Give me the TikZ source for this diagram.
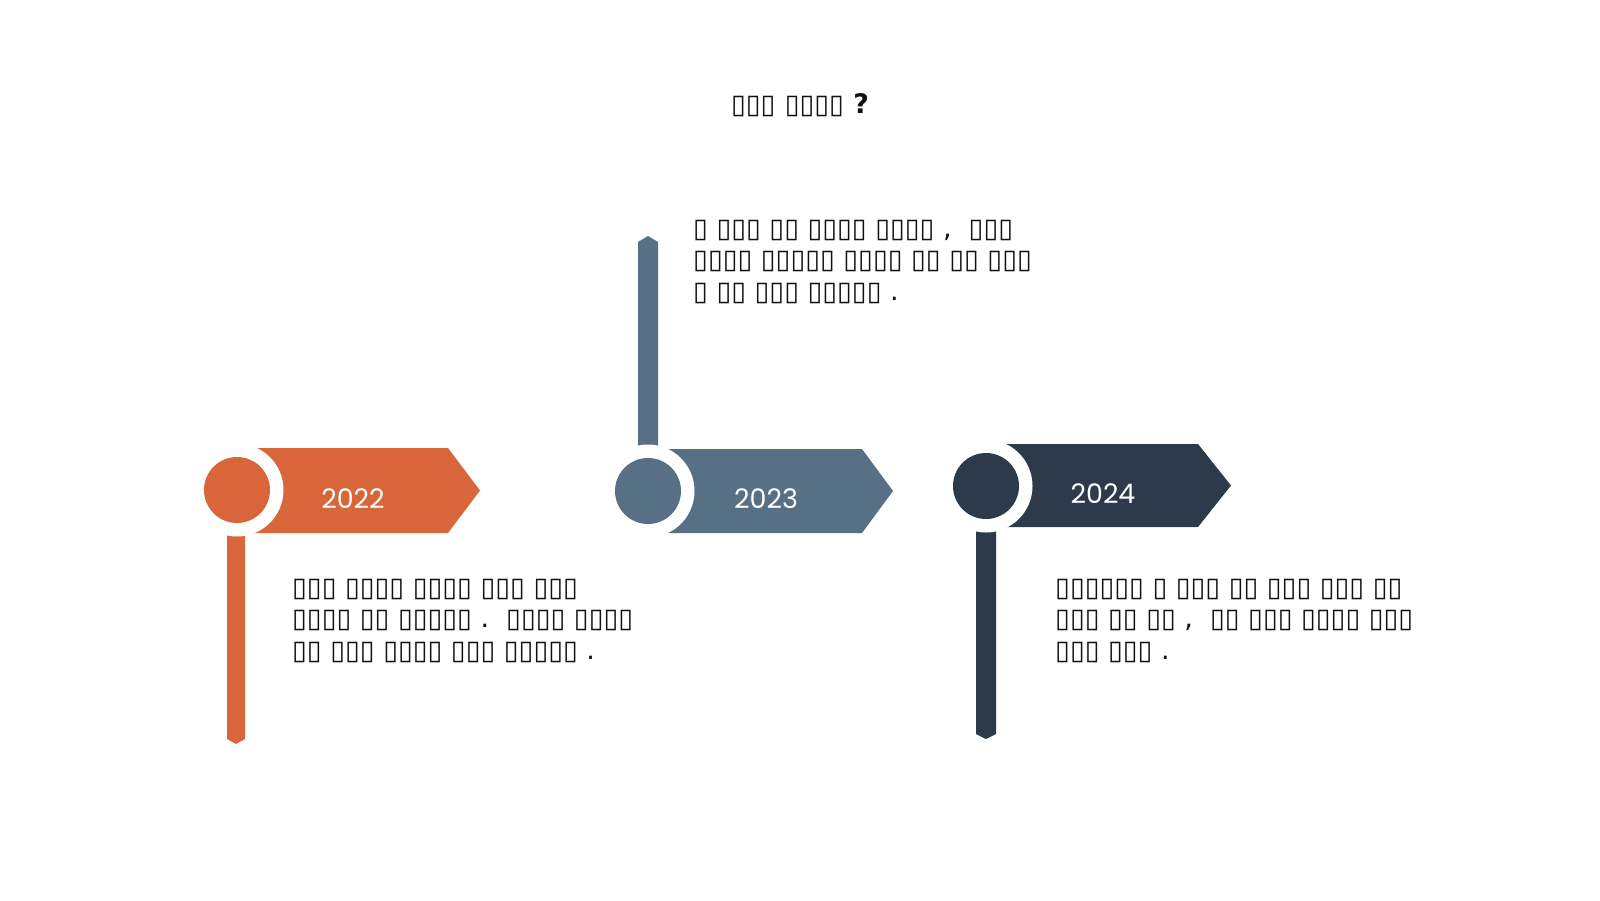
\documentclass[tikz,border=0pt]{standalone}
\usepackage{fontspec}
\newfontfamily\boxfont{DejaVu Sans}
\newfontfamily\yearfont{Poppins}
\definecolor{corange}{HTML}{D8663A}
\definecolor{cslate}{HTML}{587085}
\definecolor{cnavy}{HTML}{2C3A4B}
\definecolor{ctext}{HTML}{111111}
\begin{document}
\begin{tikzpicture}[x=1bp,y=-1bp,
  ringnode/.style={circle, fill=white, minimum size=93bp, inner sep=0pt},
  dotnode/.style={circle, minimum size=66bp, inner sep=0pt},
  body/.style={anchor=base west, align=left, inner sep=0pt, text=ctext,
    font=\boxfont\fontsize{27}{31.5}\selectfont},
  yearlabel/.style={anchor=base, inner sep=0pt, text=white,
    font=\yearfont\fontsize{27}{30}\selectfont},
  titlelabel/.style={anchor=base, inner sep=0pt, text=ctext,
    font=\boxfont\bfseries\fontsize{27}{30}\selectfont}
]
\useasboundingbox (0,0) rectangle (1600,900);
\fill[white] (0,0) rectangle (1600,900);

% title
\node[titlelabel] (title) at (800,113) {▯▯▯ ▯▯▯▯ ?};

% ---------- 2022 ----------
\fill[corange] (227,490) -- (227,739) -- (236,744) -- (245,739) -- (245,490) -- cycle;
\fill[corange] (237,448) -- (448,448) -- (480,490.5) -- (448,533) -- (237,533) -- cycle;
\node[ringnode] (r22) at (237,490) {};
\node[dotnode, fill=corange] (d22) at (237,490) {};
\node[yearlabel] (y22) at (353,508) {2022};
\node[body] (t22) at (292,659) {▯▯▯ ▯▯▯▯ ▯▯▯▯ ▯▯▯ ▯▯▯\\
▯▯▯▯ ▯▯ ▯▯▯▯▯ .\ \ ▯▯▯▯ ▯▯▯▯\\
▯▯ ▯▯▯ ▯▯▯▯ ▯▯▯ ▯▯▯▯▯ .};

% ---------- 2023 ----------
\fill[cslate] (638,491) -- (638,242) -- (648,236) -- (658,242) -- (658,491) -- cycle;
\fill[cslate] (648,449) -- (862,449) -- (893,491) -- (862,533) -- (648,533) -- cycle;
\node[ringnode] (r23) at (648,491) {};
\node[dotnode, fill=cslate] (d23) at (648,491) {};
\node[yearlabel] (y23) at (766,508) {2023};
\node[body] (t23) at (693,300) {▯ ▯▯▯ ▯▯ ▯▯▯▯ ▯▯▯▯ ,\ \ ▯▯▯\\
▯▯▯▯ ▯▯▯▯▯ ▯▯▯▯ ▯▯ ▯▯ ▯▯▯\\
▯ ▯▯ ▯▯▯ ▯▯▯▯▯ .};

% ---------- 2024 ----------
\fill[cnavy] (976,486) -- (976,734) -- (986,739) -- (996,734) -- (996,486) -- cycle;
\fill[cnavy] (986,444) -- (1198,444) -- (1231,485.5) -- (1198,527) -- (986,527) -- cycle;
\node[ringnode] (r24) at (986,486) {};
\node[dotnode, fill=cnavy] (d24) at (986,486) {};
\node[yearlabel] (y24) at (1103,503) {2024};
\node[body] (t24) at (1055,659) {▯▯▯▯▯▯ ▯ ▯▯▯ ▯▯ ▯▯▯ ▯▯▯ ▯▯\\
▯▯▯ ▯▯ ▯▯ ,\ \ ▯▯ ▯▯▯ ▯▯▯▯ ▯▯▯\\
▯▯▯ ▯▯▯ .};
\end{tikzpicture}
\end{document}
